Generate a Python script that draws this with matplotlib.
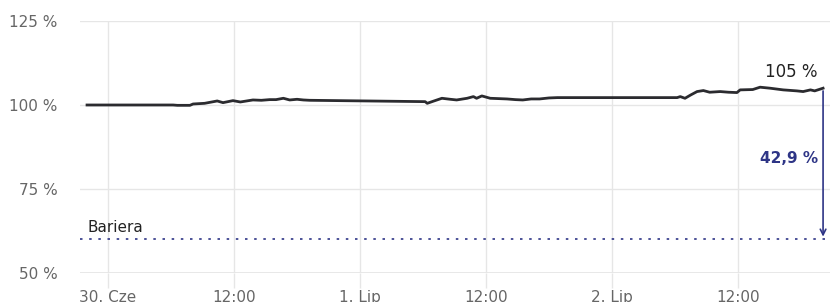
import matplotlib.pyplot as plt

# czas w godzinach od 30. Cze 00:00, wartość w % poziomu początkowego
godziny = [-2.0, 6.2, 6.6, 7.8, 8.1, 9.2, 10.4, 10.95, 11.9, 12.6, 13.8, 14.6, 15.4,
           16.0, 16.7, 17.3, 18.0, 18.6, 19.2, 30.2, 30.4, 30.95, 31.8, 32.6, 33.2,
           34.2, 34.8, 35.1, 35.6, 36.4, 37.2, 38.0, 38.8, 39.5, 40.3, 41.1, 42.0,
           42.8, 54.2, 54.5, 54.95, 55.5, 56.1, 56.7, 57.3, 58.3, 59.1, 59.9, 60.2,
           61.4, 62.1, 63.05, 64.3, 65.6, 66.2, 66.9, 67.3, 68.1]
wartosci = [100.0, 100.0, 99.9, 99.9, 100.3, 100.5, 101.2, 100.7, 101.3, 100.9, 101.5, 101.4, 101.6,
            101.6, 102.0, 101.5, 101.7, 101.5, 101.4, 101.0, 100.5, 101.1, 102.0, 101.7, 101.5,
            102.0, 102.5, 102.0, 102.7, 102.0, 101.9, 101.8, 101.6, 101.5, 101.8, 101.8, 102.1,
            102.2, 102.2, 102.5, 102.0, 103.0, 104.0, 104.3, 103.8, 104.0, 103.8, 103.7, 104.5,
            104.6, 105.3, 105.0, 104.5, 104.2, 104.0, 104.5, 104.2, 105.0]

bariera = 60
yticks = [50, 75, 100, 125]
xticks = [0, 12, 24, 36, 48, 60]
xtick_labels = ['30. Cze', '12:00', '1. Lip', '12:00', '2. Lip', '12:00']

granat = '#2e3586'
siatka = '#e6e6e6'

fig = plt.figure(figsize=(8.3, 3.02), dpi=100)
ax = fig.add_axes([80 / 830, 1 - 273 / 302, 750 / 830, 252 / 302])

ax.set_xlim(-2.67, 68.76)
ax.set_ylim(50, 125)
ax.set_yticks(yticks)
ax.set_yticklabels([f'{v} %' for v in yticks])
ax.set_xticks(xticks)
ax.set_xticklabels(xtick_labels)

for s in ax.spines.values():
    s.set_visible(False)

for v in yticks:
    ax.axhline(v, color=siatka, lw=2 if v == 50 else 1, zorder=0)
for x in xticks:
    ax.axvline(x, color=siatka, lw=1, zorder=0)

ax.tick_params(axis='y', length=0, pad=16, labelsize=11, labelcolor='#666666')
ax.tick_params(axis='x', length=11, width=1, color=siatka, pad=1,
               labelsize=11, labelcolor='#666666')

# bariera
ax.axhline(bariera, color=granat, lw=1.2, linestyle=(0, (1.5, 4)), zorder=1)
ax.text(-2.0, bariera + 1.4, 'Bariera', fontsize=11, color='#222222', va='bottom')

# kurs
ax.plot(godziny, wartosci, color='#2b2b2f', lw=2.0, solid_joinstyle='round', zorder=3)

ostatnia = wartosci[-1]
ax.annotate('', xy=(godziny[-1], bariera), xytext=(godziny[-1], ostatnia),
            arrowprops=dict(arrowstyle='->', color=granat, lw=1.2, mutation_scale=10),
            zorder=2)
ax.text(godziny[-1] - 0.5, 108.3, f'{ostatnia:.0f} %', fontsize=12,
        color='#222222', ha='right', va='baseline')
odleglosc = (ostatnia - bariera) / ostatnia * 100
ax.text(godziny[-1] - 0.5, 84.2, f'{odleglosc:.1f} %'.replace('.', ','), fontsize=11,
        color=granat, fontweight='bold', ha='right', va='center')

fig.savefig('out.png', dpi=100)
